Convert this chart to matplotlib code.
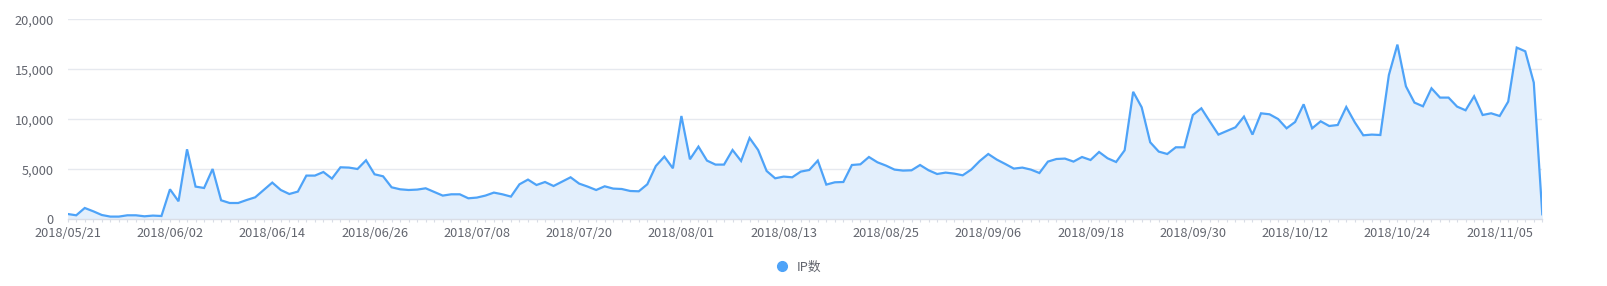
import numpy as np
import pandas as pd
import matplotlib
matplotlib.use('Agg')
import matplotlib.pyplot as plt
from matplotlib.lines import Line2D
from matplotlib.ticker import FuncFormatter

plt.rcParams['font.family'] = ['Noto Sans CJK SC', 'DejaVu Sans']

# Datos: IP diarias desde 2018/05/21
start_date = '2018-05-21'
ip_values = [
    530, 400, 1130, 800, 430, 270, 270, 400, 400, 300,
    370, 330, 3000, 1800, 7000, 3270, 3130, 5030, 1900, 1630,
    1630, 1930, 2200, 2930, 3670, 2930, 2530, 2770, 4370, 4370,
    4730, 4070, 5200, 5170, 5030, 5900, 4500, 4300, 3200, 3000,
    2930, 2970, 3100, 2730, 2370, 2500, 2500, 2100, 2170, 2370,
    2670, 2500, 2270, 3500, 3970, 3430, 3730, 3330, 3770, 4200,
    3570, 3270, 2930, 3300, 3070, 3030, 2830, 2800, 3500, 5330,
    6270, 5100, 10330, 6000, 7270, 5870, 5470, 5470, 6930, 5830,
    8130, 6930, 4830, 4100, 4270, 4200, 4770, 4930, 5870, 3470,
    3700, 3730, 5430, 5500, 6230, 5700, 5370, 4970, 4870, 4900,
    5430, 4900, 4530, 4670, 4570, 4400, 4970, 5830, 6530, 5970,
    5530, 5070, 5170, 4970, 4630, 5770, 6030, 6070, 5770, 6230,
    5930, 6730, 6100, 5730, 6900, 12750, 11200, 7700, 6770, 6530,
    7200, 7200, 10430, 11100, 9770, 8470, 8830, 9200, 10270, 8470,
    10600, 10500, 10030, 9100, 9730, 11500, 9100, 9800, 9330, 9430,
    11230, 9700, 8400, 8470, 8430, 14430, 17470, 13300, 11670, 11300,
    13100, 12170, 12170, 11270, 10900, 12300, 10430, 10600, 10330, 11770,
    17170, 16800, 13670, 500,
]
series_name = 'IP数'

dates = pd.date_range(start_date, periods=len(ip_values), freq='D')
date_labels = [d.strftime('%Y/%m/%d') for d in dates]
x = np.arange(len(ip_values))

line_color = '#4ea3f8'
fill_color = '#e3effc'
text_color = '#62656e'
grid_color = '#e6e9ef'

fig = plt.figure(figsize=(16.07, 2.86), dpi=100)
ax = fig.add_axes([67.7 / 1607, 1 - 219.3 / 286, (1542.3 - 67.7) / 1607, 200 / 286])

ax.fill_between(x, ip_values, 0, color=fill_color, linewidth=0)
ax.plot(x, ip_values, color=line_color, linewidth=1.6, solid_joinstyle='miter')

ax.set_xlim(0, len(ip_values) - 1)
ax.set_ylim(0, 20000)

# Ejes y rejilla
ax.set_yticks([0, 5000, 10000, 15000, 20000])
ax.yaxis.set_major_formatter(FuncFormatter(lambda v, p: f'{int(v):,}'))
ax.grid(axis='y', color=grid_color, linewidth=1)
ax.set_axisbelow(True)

major = list(range(0, len(ip_values), 12))
ax.set_xticks(major)
ax.set_xticklabels([date_labels[i] for i in major])
ax.set_xticks(x, minor=True)

for s in ['top', 'right', 'left']:
    ax.spines[s].set_visible(False)
ax.spines['bottom'].set_color('#d9dde6')
ax.spines['bottom'].set_linewidth(1)

ax.tick_params(axis='y', length=0, pad=10, labelsize=9.2, labelcolor=text_color)
ax.tick_params(axis='x', which='both', length=2.5, color='#d9dde6', width=0.8,
               pad=3, labelsize=9.2, labelcolor=text_color)

# Leyenda
handle = Line2D([0], [0], marker='o', color='none', markerfacecolor=line_color,
                markeredgecolor=line_color, markersize=7)
fig.legend([handle], [series_name], loc='center', bbox_to_anchor=(798 / 1607, 1 - 267 / 286),
           frameon=False, fontsize=9.2, labelcolor=text_color, handletextpad=0.6,
           handlelength=1.2)

fig.savefig('out.png', dpi=100)
